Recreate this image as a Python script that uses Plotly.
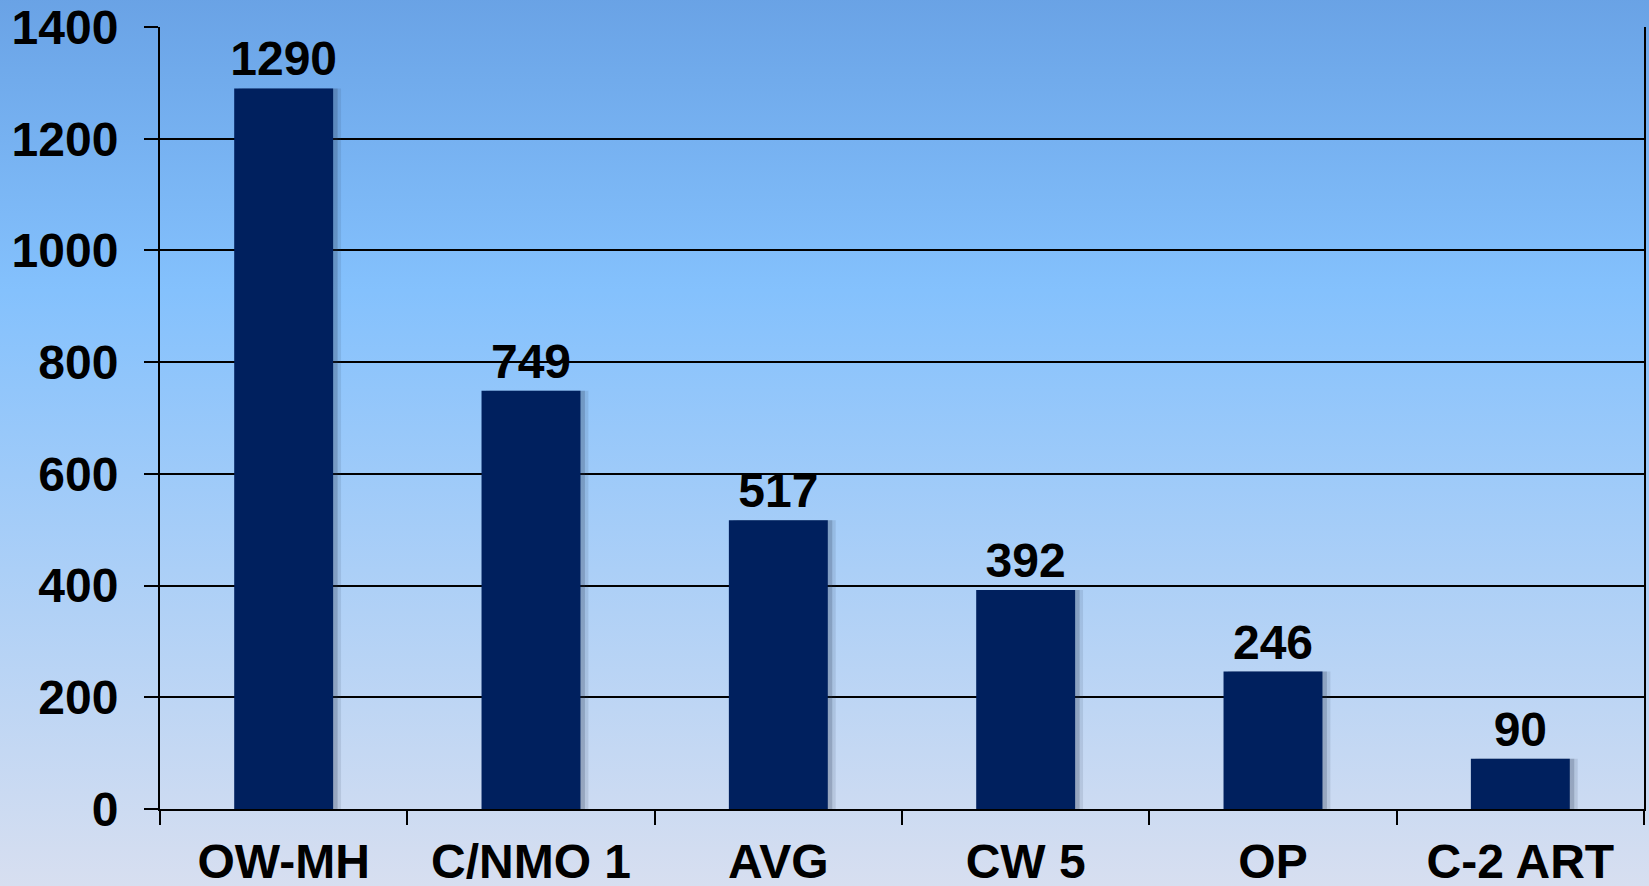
import base64
import plotly.graph_objects as go

categories = ["OW-MH", "C/NMO 1", "AVG", "CW 5", "OP", "C-2 ART"]
values = [1290, 749, 517, 392, 246, 90]
y_ticks = [0, 200, 400, 600, 800, 1000, 1200, 1400]

W, H = 1649, 886
ML, MR, MT, MB = 160, 5, 27, 77
pw, ph = W - ML - MR, H - MT - MB

svg = (
    '<svg xmlns="http://www.w3.org/2000/svg" width="100" height="100" preserveAspectRatio="none">'
    '<defs><linearGradient id="g" x1="0" y1="0" x2="0" y2="1">'
    '<stop offset="0" stop-color="#69a2e5"/>'
    '<stop offset="0.33" stop-color="#84c1fd"/>'
    '<stop offset="1" stop-color="#d8dff0"/>'
    '</linearGradient></defs>'
    '<rect width="100" height="100" fill="url(#g)"/></svg>'
)
src = "data:image/svg+xml;base64," + base64.b64encode(svg.encode()).decode()

font_family = "Arial, Liberation Sans, sans-serif"
bold = dict(family=font_family, size=48, color="black", weight="bold")

fig = go.Figure()
# soft shadow behind bars (two layers)
for off, alpha in [(0.032, 0.12), (0.018, 0.22)]:
    fig.add_trace(go.Bar(
        x=categories, y=values, width=0.40, offset=-0.20 + off,
        marker=dict(color=f"rgba(40,55,80,{alpha})", line=dict(width=0)),
        hoverinfo="skip", showlegend=False,
    ))
fig.add_trace(go.Bar(
    x=categories, y=values, width=0.40, offset=-0.20,
    marker=dict(color="#00205e", line=dict(width=0)),
    text=[str(v) for v in values], textposition="outside",
    textfont=bold, cliponaxis=False, showlegend=False,
))

pad = 6
fig.update_layout(
    width=W, height=H,
    margin=dict(l=ML, r=MR, t=MT, b=MB, pad=0),
    paper_bgcolor="#d8dff0",
    plot_bgcolor="rgba(0,0,0,0)",
    barmode="overlay",
    uniformtext=dict(minsize=48, mode="show"),
    images=[dict(
        source=src, xref="paper", yref="paper",
        x=-(ML + pad) / pw, y=1 + (MT + pad) / ph,
        sizex=(W + 2 * pad) / pw, sizey=(H + 2 * pad) / ph,
        xanchor="left", yanchor="top", sizing="stretch", layer="below",
    )],
    font=bold,
)

fig.update_xaxes(
    type="category", tickson="boundaries", ticks="outside", ticklen=14,
    tickwidth=1.5, tickcolor="black", showline=True, linecolor="black",
    linewidth=2, showgrid=False, tickfont=bold, ticklabelstandoff=9,
    automargin=False,
)
fig.update_yaxes(
    range=[0, 1400], tickvals=y_ticks, ticks="outside", ticklen=14,
    tickwidth=1.5, tickcolor="black", showline=True, mirror=True,
    linecolor="black", linewidth=2, showgrid=True, gridcolor="black",
    gridwidth=1.5, zeroline=False, tickfont=bold, ticklabelstandoff=16,
    automargin=False,
)

fig.write_html(
    "out.html",
    config={"displayModeBar": False},
    post_script="document.body.style.margin='0';document.body.style.overflow='hidden';",
)
